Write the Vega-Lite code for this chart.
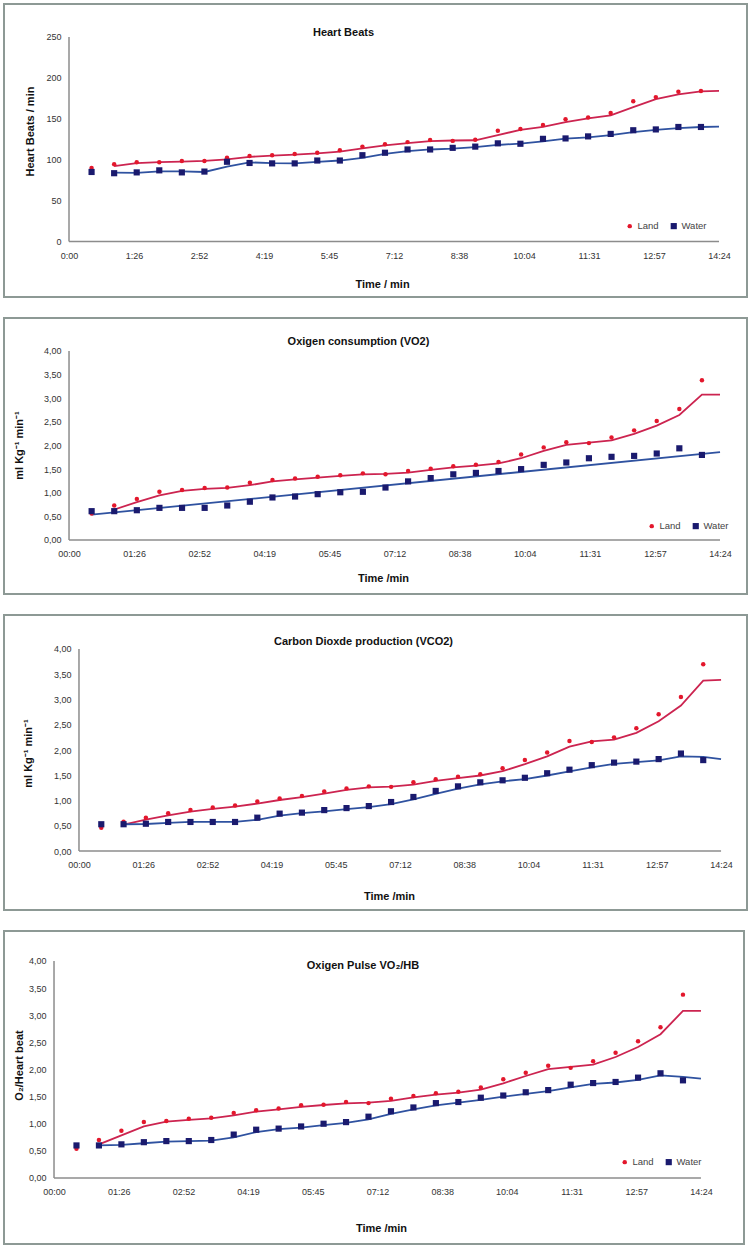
{
"$schema": "https://vega.github.io/schema/vega-lite/v6.json",
"background": "white",
"padding": {"left": 3, "top": 3, "right": 0, "bottom": 0},
"config": {
  "font": "Liberation Sans",
  "view": {"stroke": "#8d9995", "strokeWidth": 2},
  "concat": {"spacing": 19},
  "axis": {"ticks": false, "domain": false, "grid": false, "labelFont": "Liberation Sans", "labelFontSize": 9, "labelColor": "#333333", "titleFont": "Liberation Sans", "titleFontSize": 11, "titleFontWeight": "bold", "titleColor": "#111111", "labelOverlap": false, "labelFlush": false, "tickCount": 30},
  "title": {"font": "Liberation Sans", "fontSize": 11, "fontWeight": "bold", "color": "#111111", "baseline": "middle", "frame": "group", "anchor": "middle"},
  "legend": {"labelFont": "Liberation Sans"}
},
"datasets": {
"points": [
{"panel":1,"series":"Land","sec":30,"value":90},{"panel":1,"series":"Land","sec":60,"value":94.5},{"panel":1,"series":"Land","sec":90,"value":97},{"panel":1,"series":"Land","sec":120,"value":97},{"panel":1,"series":"Land","sec":150,"value":98.5},{"panel":1,"series":"Land","sec":180,"value":98.5},{"panel":1,"series":"Land","sec":210,"value":102.5},{"panel":1,"series":"Land","sec":240,"value":104.5},{"panel":1,"series":"Land","sec":270,"value":105.5},{"panel":1,"series":"Land","sec":300,"value":107},{"panel":1,"series":"Land","sec":330,"value":108.5},{"panel":1,"series":"Land","sec":360,"value":111.5},{"panel":1,"series":"Land","sec":390,"value":116},{"panel":1,"series":"Land","sec":420,"value":119},{"panel":1,"series":"Land","sec":450,"value":121.5},{"panel":1,"series":"Land","sec":480,"value":124},{"panel":1,"series":"Land","sec":510,"value":123},{"panel":1,"series":"Land","sec":540,"value":124.5},{"panel":1,"series":"Land","sec":570,"value":135.5},{"panel":1,"series":"Land","sec":600,"value":137.5},{"panel":1,"series":"Land","sec":630,"value":142.5},{"panel":1,"series":"Land","sec":660,"value":149.5},{"panel":1,"series":"Land","sec":690,"value":151.5},{"panel":1,"series":"Land","sec":720,"value":157},{"panel":1,"series":"Land","sec":750,"value":171.5},{"panel":1,"series":"Land","sec":780,"value":176.5},{"panel":1,"series":"Land","sec":810,"value":183},{"panel":1,"series":"Land","sec":840,"value":184},
{"panel":1,"series":"Water","sec":30,"value":85},{"panel":1,"series":"Water","sec":60,"value":83.5},{"panel":1,"series":"Water","sec":90,"value":84.5},{"panel":1,"series":"Water","sec":120,"value":87},{"panel":1,"series":"Water","sec":150,"value":84.5},{"panel":1,"series":"Water","sec":180,"value":85.5},{"panel":1,"series":"Water","sec":210,"value":97.5},{"panel":1,"series":"Water","sec":240,"value":96},{"panel":1,"series":"Water","sec":270,"value":95.5},{"panel":1,"series":"Water","sec":300,"value":95.5},{"panel":1,"series":"Water","sec":330,"value":99},{"panel":1,"series":"Water","sec":360,"value":99},{"panel":1,"series":"Water","sec":390,"value":105.5},{"panel":1,"series":"Water","sec":420,"value":108.5},{"panel":1,"series":"Water","sec":450,"value":112.5},{"panel":1,"series":"Water","sec":480,"value":112.5},{"panel":1,"series":"Water","sec":510,"value":114.5},{"panel":1,"series":"Water","sec":540,"value":116},{"panel":1,"series":"Water","sec":570,"value":120},{"panel":1,"series":"Water","sec":600,"value":119.5},{"panel":1,"series":"Water","sec":630,"value":125.5},{"panel":1,"series":"Water","sec":660,"value":126},{"panel":1,"series":"Water","sec":690,"value":128.5},{"panel":1,"series":"Water","sec":720,"value":131.5},{"panel":1,"series":"Water","sec":750,"value":136},{"panel":1,"series":"Water","sec":780,"value":137},{"panel":1,"series":"Water","sec":810,"value":140},{"panel":1,"series":"Water","sec":840,"value":140},
{"panel":2,"series":"Land","sec":30,"value":0.56},{"panel":2,"series":"Land","sec":60,"value":0.73},{"panel":2,"series":"Land","sec":90,"value":0.87},{"panel":2,"series":"Land","sec":120,"value":1.02},{"panel":2,"series":"Land","sec":150,"value":1.06},{"panel":2,"series":"Land","sec":180,"value":1.1},{"panel":2,"series":"Land","sec":210,"value":1.11},{"panel":2,"series":"Land","sec":240,"value":1.21},{"panel":2,"series":"Land","sec":270,"value":1.27},{"panel":2,"series":"Land","sec":300,"value":1.3},{"panel":2,"series":"Land","sec":330,"value":1.34},{"panel":2,"series":"Land","sec":360,"value":1.37},{"panel":2,"series":"Land","sec":390,"value":1.41},{"panel":2,"series":"Land","sec":420,"value":1.39},{"panel":2,"series":"Land","sec":450,"value":1.46},{"panel":2,"series":"Land","sec":480,"value":1.51},{"panel":2,"series":"Land","sec":510,"value":1.56},{"panel":2,"series":"Land","sec":540,"value":1.59},{"panel":2,"series":"Land","sec":570,"value":1.65},{"panel":2,"series":"Land","sec":600,"value":1.81},{"panel":2,"series":"Land","sec":630,"value":1.96},{"panel":2,"series":"Land","sec":660,"value":2.07},{"panel":2,"series":"Land","sec":690,"value":2.05},{"panel":2,"series":"Land","sec":720,"value":2.17},{"panel":2,"series":"Land","sec":750,"value":2.32},{"panel":2,"series":"Land","sec":780,"value":2.52},{"panel":2,"series":"Land","sec":810,"value":2.77},{"panel":2,"series":"Land","sec":840,"value":3.38},
{"panel":2,"series":"Water","sec":30,"value":0.61},{"panel":2,"series":"Water","sec":60,"value":0.61},{"panel":2,"series":"Water","sec":90,"value":0.63},{"panel":2,"series":"Water","sec":120,"value":0.68},{"panel":2,"series":"Water","sec":150,"value":0.68},{"panel":2,"series":"Water","sec":180,"value":0.68},{"panel":2,"series":"Water","sec":210,"value":0.73},{"panel":2,"series":"Water","sec":240,"value":0.81},{"panel":2,"series":"Water","sec":270,"value":0.9},{"panel":2,"series":"Water","sec":300,"value":0.92},{"panel":2,"series":"Water","sec":330,"value":0.97},{"panel":2,"series":"Water","sec":360,"value":1.01},{"panel":2,"series":"Water","sec":390,"value":1.02},{"panel":2,"series":"Water","sec":420,"value":1.11},{"panel":2,"series":"Water","sec":450,"value":1.24},{"panel":2,"series":"Water","sec":480,"value":1.31},{"panel":2,"series":"Water","sec":510,"value":1.39},{"panel":2,"series":"Water","sec":540,"value":1.42},{"panel":2,"series":"Water","sec":570,"value":1.46},{"panel":2,"series":"Water","sec":600,"value":1.5},{"panel":2,"series":"Water","sec":630,"value":1.59},{"panel":2,"series":"Water","sec":660,"value":1.64},{"panel":2,"series":"Water","sec":690,"value":1.73},{"panel":2,"series":"Water","sec":720,"value":1.76},{"panel":2,"series":"Water","sec":750,"value":1.78},{"panel":2,"series":"Water","sec":780,"value":1.83},{"panel":2,"series":"Water","sec":810,"value":1.94},{"panel":2,"series":"Water","sec":840,"value":1.8},
{"panel":3,"series":"Land","sec":30,"value":0.46},{"panel":3,"series":"Land","sec":60,"value":0.58},{"panel":3,"series":"Land","sec":90,"value":0.66},{"panel":3,"series":"Land","sec":120,"value":0.75},{"panel":3,"series":"Land","sec":150,"value":0.81},{"panel":3,"series":"Land","sec":180,"value":0.86},{"panel":3,"series":"Land","sec":210,"value":0.9},{"panel":3,"series":"Land","sec":240,"value":0.98},{"panel":3,"series":"Land","sec":270,"value":1.04},{"panel":3,"series":"Land","sec":300,"value":1.09},{"panel":3,"series":"Land","sec":330,"value":1.18},{"panel":3,"series":"Land","sec":360,"value":1.24},{"panel":3,"series":"Land","sec":390,"value":1.28},{"panel":3,"series":"Land","sec":420,"value":1.27},{"panel":3,"series":"Land","sec":450,"value":1.36},{"panel":3,"series":"Land","sec":480,"value":1.42},{"panel":3,"series":"Land","sec":510,"value":1.47},{"panel":3,"series":"Land","sec":540,"value":1.52},{"panel":3,"series":"Land","sec":570,"value":1.64},{"panel":3,"series":"Land","sec":600,"value":1.8},{"panel":3,"series":"Land","sec":630,"value":1.95},{"panel":3,"series":"Land","sec":660,"value":2.18},{"panel":3,"series":"Land","sec":690,"value":2.16},{"panel":3,"series":"Land","sec":720,"value":2.25},{"panel":3,"series":"Land","sec":750,"value":2.43},{"panel":3,"series":"Land","sec":780,"value":2.71},{"panel":3,"series":"Land","sec":810,"value":3.05},{"panel":3,"series":"Land","sec":840,"value":3.7},
{"panel":3,"series":"Water","sec":30,"value":0.53},{"panel":3,"series":"Water","sec":60,"value":0.53},{"panel":3,"series":"Water","sec":90,"value":0.54},{"panel":3,"series":"Water","sec":120,"value":0.575},{"panel":3,"series":"Water","sec":150,"value":0.575},{"panel":3,"series":"Water","sec":180,"value":0.575},{"panel":3,"series":"Water","sec":210,"value":0.575},{"panel":3,"series":"Water","sec":240,"value":0.66},{"panel":3,"series":"Water","sec":270,"value":0.74},{"panel":3,"series":"Water","sec":300,"value":0.76},{"panel":3,"series":"Water","sec":330,"value":0.81},{"panel":3,"series":"Water","sec":360,"value":0.85},{"panel":3,"series":"Water","sec":390,"value":0.89},{"panel":3,"series":"Water","sec":420,"value":0.97},{"panel":3,"series":"Water","sec":450,"value":1.07},{"panel":3,"series":"Water","sec":480,"value":1.19},{"panel":3,"series":"Water","sec":510,"value":1.28},{"panel":3,"series":"Water","sec":540,"value":1.36},{"panel":3,"series":"Water","sec":570,"value":1.4},{"panel":3,"series":"Water","sec":600,"value":1.45},{"panel":3,"series":"Water","sec":630,"value":1.54},{"panel":3,"series":"Water","sec":660,"value":1.61},{"panel":3,"series":"Water","sec":690,"value":1.7},{"panel":3,"series":"Water","sec":720,"value":1.75},{"panel":3,"series":"Water","sec":750,"value":1.77},{"panel":3,"series":"Water","sec":780,"value":1.82},{"panel":3,"series":"Water","sec":810,"value":1.93},{"panel":3,"series":"Water","sec":840,"value":1.8},
{"panel":4,"series":"Land","sec":30,"value":0.54},{"panel":4,"series":"Land","sec":60,"value":0.7},{"panel":4,"series":"Land","sec":90,"value":0.87},{"panel":4,"series":"Land","sec":120,"value":1.03},{"panel":4,"series":"Land","sec":150,"value":1.05},{"panel":4,"series":"Land","sec":180,"value":1.09},{"panel":4,"series":"Land","sec":210,"value":1.11},{"panel":4,"series":"Land","sec":240,"value":1.2},{"panel":4,"series":"Land","sec":270,"value":1.25},{"panel":4,"series":"Land","sec":300,"value":1.28},{"panel":4,"series":"Land","sec":330,"value":1.34},{"panel":4,"series":"Land","sec":360,"value":1.35},{"panel":4,"series":"Land","sec":390,"value":1.4},{"panel":4,"series":"Land","sec":420,"value":1.38},{"panel":4,"series":"Land","sec":450,"value":1.46},{"panel":4,"series":"Land","sec":480,"value":1.51},{"panel":4,"series":"Land","sec":510,"value":1.56},{"panel":4,"series":"Land","sec":540,"value":1.59},{"panel":4,"series":"Land","sec":570,"value":1.67},{"panel":4,"series":"Land","sec":600,"value":1.82},{"panel":4,"series":"Land","sec":630,"value":1.94},{"panel":4,"series":"Land","sec":660,"value":2.07},{"panel":4,"series":"Land","sec":690,"value":2.03},{"panel":4,"series":"Land","sec":720,"value":2.15},{"panel":4,"series":"Land","sec":750,"value":2.31},{"panel":4,"series":"Land","sec":780,"value":2.52},{"panel":4,"series":"Land","sec":810,"value":2.78},{"panel":4,"series":"Land","sec":840,"value":3.38},
{"panel":4,"series":"Water","sec":30,"value":0.6},{"panel":4,"series":"Water","sec":60,"value":0.6},{"panel":4,"series":"Water","sec":90,"value":0.62},{"panel":4,"series":"Water","sec":120,"value":0.66},{"panel":4,"series":"Water","sec":150,"value":0.68},{"panel":4,"series":"Water","sec":180,"value":0.68},{"panel":4,"series":"Water","sec":210,"value":0.7},{"panel":4,"series":"Water","sec":240,"value":0.8},{"panel":4,"series":"Water","sec":270,"value":0.89},{"panel":4,"series":"Water","sec":300,"value":0.91},{"panel":4,"series":"Water","sec":330,"value":0.95},{"panel":4,"series":"Water","sec":360,"value":1.0},{"panel":4,"series":"Water","sec":390,"value":1.03},{"panel":4,"series":"Water","sec":420,"value":1.13},{"panel":4,"series":"Water","sec":450,"value":1.23},{"panel":4,"series":"Water","sec":480,"value":1.3},{"panel":4,"series":"Water","sec":510,"value":1.38},{"panel":4,"series":"Water","sec":540,"value":1.4},{"panel":4,"series":"Water","sec":570,"value":1.48},{"panel":4,"series":"Water","sec":600,"value":1.52},{"panel":4,"series":"Water","sec":630,"value":1.58},{"panel":4,"series":"Water","sec":660,"value":1.62},{"panel":4,"series":"Water","sec":690,"value":1.72},{"panel":4,"series":"Water","sec":720,"value":1.75},{"panel":4,"series":"Water","sec":750,"value":1.77},{"panel":4,"series":"Water","sec":780,"value":1.85},{"panel":4,"series":"Water","sec":810,"value":1.93},{"panel":4,"series":"Water","sec":840,"value":1.8}
],
"trends": [
{"panel":1,"series":"Land","sec":60,"value":92.25},{"panel":1,"series":"Land","sec":90,"value":95.75},{"panel":1,"series":"Land","sec":120,"value":97},{"panel":1,"series":"Land","sec":150,"value":97.75},{"panel":1,"series":"Land","sec":180,"value":98.5},{"panel":1,"series":"Land","sec":210,"value":100.5},{"panel":1,"series":"Land","sec":240,"value":103.5},{"panel":1,"series":"Land","sec":270,"value":105},{"panel":1,"series":"Land","sec":300,"value":106.25},{"panel":1,"series":"Land","sec":330,"value":107.75},{"panel":1,"series":"Land","sec":360,"value":110},{"panel":1,"series":"Land","sec":390,"value":113.75},{"panel":1,"series":"Land","sec":420,"value":117.5},{"panel":1,"series":"Land","sec":450,"value":120.25},{"panel":1,"series":"Land","sec":480,"value":122.75},{"panel":1,"series":"Land","sec":510,"value":123.5},{"panel":1,"series":"Land","sec":540,"value":123.75},{"panel":1,"series":"Land","sec":570,"value":130},{"panel":1,"series":"Land","sec":600,"value":136.5},{"panel":1,"series":"Land","sec":630,"value":140},{"panel":1,"series":"Land","sec":660,"value":146},{"panel":1,"series":"Land","sec":690,"value":150.5},{"panel":1,"series":"Land","sec":720,"value":154.25},{"panel":1,"series":"Land","sec":750,"value":164.25},{"panel":1,"series":"Land","sec":780,"value":174},{"panel":1,"series":"Land","sec":810,"value":179.75},{"panel":1,"series":"Land","sec":840,"value":183.5},{"panel":1,"series":"Land","sec":864,"value":184},
{"panel":1,"series":"Water","sec":60,"value":84.25},{"panel":1,"series":"Water","sec":90,"value":84},{"panel":1,"series":"Water","sec":120,"value":85.75},{"panel":1,"series":"Water","sec":150,"value":85.75},{"panel":1,"series":"Water","sec":180,"value":85},{"panel":1,"series":"Water","sec":210,"value":91.5},{"panel":1,"series":"Water","sec":240,"value":96.75},{"panel":1,"series":"Water","sec":270,"value":95.75},{"panel":1,"series":"Water","sec":300,"value":95.5},{"panel":1,"series":"Water","sec":330,"value":97.25},{"panel":1,"series":"Water","sec":360,"value":99},{"panel":1,"series":"Water","sec":390,"value":102.25},{"panel":1,"series":"Water","sec":420,"value":107},{"panel":1,"series":"Water","sec":450,"value":110.5},{"panel":1,"series":"Water","sec":480,"value":112.5},{"panel":1,"series":"Water","sec":510,"value":113.5},{"panel":1,"series":"Water","sec":540,"value":115.25},{"panel":1,"series":"Water","sec":570,"value":118},{"panel":1,"series":"Water","sec":600,"value":119.75},{"panel":1,"series":"Water","sec":630,"value":122.5},{"panel":1,"series":"Water","sec":660,"value":125.75},{"panel":1,"series":"Water","sec":690,"value":127.25},{"panel":1,"series":"Water","sec":720,"value":130},{"panel":1,"series":"Water","sec":750,"value":133.75},{"panel":1,"series":"Water","sec":780,"value":136.5},{"panel":1,"series":"Water","sec":810,"value":138.5},{"panel":1,"series":"Water","sec":840,"value":140},{"panel":1,"series":"Water","sec":864,"value":140.5},
{"panel":2,"series":"Land","sec":60,"value":0.645},{"panel":2,"series":"Land","sec":90,"value":0.8},{"panel":2,"series":"Land","sec":120,"value":0.945},{"panel":2,"series":"Land","sec":150,"value":1.04},{"panel":2,"series":"Land","sec":180,"value":1.08},{"panel":2,"series":"Land","sec":210,"value":1.105},{"panel":2,"series":"Land","sec":240,"value":1.16},{"panel":2,"series":"Land","sec":270,"value":1.24},{"panel":2,"series":"Land","sec":300,"value":1.285},{"panel":2,"series":"Land","sec":330,"value":1.32},{"panel":2,"series":"Land","sec":360,"value":1.355},{"panel":2,"series":"Land","sec":390,"value":1.39},{"panel":2,"series":"Land","sec":420,"value":1.4},{"panel":2,"series":"Land","sec":450,"value":1.425},{"panel":2,"series":"Land","sec":480,"value":1.485},{"panel":2,"series":"Land","sec":510,"value":1.535},{"panel":2,"series":"Land","sec":540,"value":1.575},{"panel":2,"series":"Land","sec":570,"value":1.62},{"panel":2,"series":"Land","sec":600,"value":1.73},{"panel":2,"series":"Land","sec":630,"value":1.885},{"panel":2,"series":"Land","sec":660,"value":2.015},{"panel":2,"series":"Land","sec":690,"value":2.06},{"panel":2,"series":"Land","sec":720,"value":2.11},{"panel":2,"series":"Land","sec":750,"value":2.245},{"panel":2,"series":"Land","sec":780,"value":2.42},{"panel":2,"series":"Land","sec":810,"value":2.645},{"panel":2,"series":"Land","sec":840,"value":3.075},{"panel":2,"series":"Land","sec":864,"value":3.075},
{"panel":2,"series":"Water","sec":30,"value":0.535},{"panel":2,"series":"Water","sec":864,"value":1.86},
{"panel":3,"series":"Land","sec":60,"value":0.52},{"panel":3,"series":"Land","sec":90,"value":0.62},{"panel":3,"series":"Land","sec":120,"value":0.705},{"panel":3,"series":"Land","sec":150,"value":0.78},{"panel":3,"series":"Land","sec":180,"value":0.835},{"panel":3,"series":"Land","sec":210,"value":0.88},{"panel":3,"series":"Land","sec":240,"value":0.94},{"panel":3,"series":"Land","sec":270,"value":1.01},{"panel":3,"series":"Land","sec":300,"value":1.065},{"panel":3,"series":"Land","sec":330,"value":1.135},{"panel":3,"series":"Land","sec":360,"value":1.21},{"panel":3,"series":"Land","sec":390,"value":1.26},{"panel":3,"series":"Land","sec":420,"value":1.275},{"panel":3,"series":"Land","sec":450,"value":1.315},{"panel":3,"series":"Land","sec":480,"value":1.39},{"panel":3,"series":"Land","sec":510,"value":1.445},{"panel":3,"series":"Land","sec":540,"value":1.495},{"panel":3,"series":"Land","sec":570,"value":1.58},{"panel":3,"series":"Land","sec":600,"value":1.72},{"panel":3,"series":"Land","sec":630,"value":1.875},{"panel":3,"series":"Land","sec":660,"value":2.065},{"panel":3,"series":"Land","sec":690,"value":2.17},{"panel":3,"series":"Land","sec":720,"value":2.205},{"panel":3,"series":"Land","sec":750,"value":2.34},{"panel":3,"series":"Land","sec":780,"value":2.57},{"panel":3,"series":"Land","sec":810,"value":2.88},{"panel":3,"series":"Land","sec":840,"value":3.375},{"panel":3,"series":"Land","sec":864,"value":3.39},
{"panel":3,"series":"Water","sec":60,"value":0.53},{"panel":3,"series":"Water","sec":90,"value":0.535},{"panel":3,"series":"Water","sec":120,"value":0.5575},{"panel":3,"series":"Water","sec":150,"value":0.575},{"panel":3,"series":"Water","sec":180,"value":0.575},{"panel":3,"series":"Water","sec":210,"value":0.575},{"panel":3,"series":"Water","sec":240,"value":0.6175},{"panel":3,"series":"Water","sec":270,"value":0.7},{"panel":3,"series":"Water","sec":300,"value":0.75},{"panel":3,"series":"Water","sec":330,"value":0.785},{"panel":3,"series":"Water","sec":360,"value":0.83},{"panel":3,"series":"Water","sec":390,"value":0.87},{"panel":3,"series":"Water","sec":420,"value":0.93},{"panel":3,"series":"Water","sec":450,"value":1.02},{"panel":3,"series":"Water","sec":480,"value":1.13},{"panel":3,"series":"Water","sec":510,"value":1.235},{"panel":3,"series":"Water","sec":540,"value":1.32},{"panel":3,"series":"Water","sec":570,"value":1.38},{"panel":3,"series":"Water","sec":600,"value":1.425},{"panel":3,"series":"Water","sec":630,"value":1.495},{"panel":3,"series":"Water","sec":660,"value":1.575},{"panel":3,"series":"Water","sec":690,"value":1.655},{"panel":3,"series":"Water","sec":720,"value":1.725},{"panel":3,"series":"Water","sec":750,"value":1.76},{"panel":3,"series":"Water","sec":780,"value":1.795},{"panel":3,"series":"Water","sec":810,"value":1.875},{"panel":3,"series":"Water","sec":840,"value":1.865},{"panel":3,"series":"Water","sec":864,"value":1.82},
{"panel":4,"series":"Land","sec":60,"value":0.62},{"panel":4,"series":"Land","sec":90,"value":0.785},{"panel":4,"series":"Land","sec":120,"value":0.95},{"panel":4,"series":"Land","sec":150,"value":1.04},{"panel":4,"series":"Land","sec":180,"value":1.07},{"panel":4,"series":"Land","sec":210,"value":1.1},{"panel":4,"series":"Land","sec":240,"value":1.155},{"panel":4,"series":"Land","sec":270,"value":1.225},{"panel":4,"series":"Land","sec":300,"value":1.265},{"panel":4,"series":"Land","sec":330,"value":1.31},{"panel":4,"series":"Land","sec":360,"value":1.345},{"panel":4,"series":"Land","sec":390,"value":1.375},{"panel":4,"series":"Land","sec":420,"value":1.39},{"panel":4,"series":"Land","sec":450,"value":1.42},{"panel":4,"series":"Land","sec":480,"value":1.485},{"panel":4,"series":"Land","sec":510,"value":1.535},{"panel":4,"series":"Land","sec":540,"value":1.575},{"panel":4,"series":"Land","sec":570,"value":1.63},{"panel":4,"series":"Land","sec":600,"value":1.745},{"panel":4,"series":"Land","sec":630,"value":1.88},{"panel":4,"series":"Land","sec":660,"value":2.005},{"panel":4,"series":"Land","sec":690,"value":2.05},{"panel":4,"series":"Land","sec":720,"value":2.09},{"panel":4,"series":"Land","sec":750,"value":2.23},{"panel":4,"series":"Land","sec":780,"value":2.415},{"panel":4,"series":"Land","sec":810,"value":2.65},{"panel":4,"series":"Land","sec":840,"value":3.08},{"panel":4,"series":"Land","sec":864,"value":3.08},
{"panel":4,"series":"Water","sec":60,"value":0.6},{"panel":4,"series":"Water","sec":90,"value":0.61},{"panel":4,"series":"Water","sec":120,"value":0.64},{"panel":4,"series":"Water","sec":150,"value":0.67},{"panel":4,"series":"Water","sec":180,"value":0.68},{"panel":4,"series":"Water","sec":210,"value":0.69},{"panel":4,"series":"Water","sec":240,"value":0.75},{"panel":4,"series":"Water","sec":270,"value":0.845},{"panel":4,"series":"Water","sec":300,"value":0.9},{"panel":4,"series":"Water","sec":330,"value":0.93},{"panel":4,"series":"Water","sec":360,"value":0.975},{"panel":4,"series":"Water","sec":390,"value":1.015},{"panel":4,"series":"Water","sec":420,"value":1.08},{"panel":4,"series":"Water","sec":450,"value":1.18},{"panel":4,"series":"Water","sec":480,"value":1.265},{"panel":4,"series":"Water","sec":510,"value":1.34},{"panel":4,"series":"Water","sec":540,"value":1.39},{"panel":4,"series":"Water","sec":570,"value":1.44},{"panel":4,"series":"Water","sec":600,"value":1.5},{"panel":4,"series":"Water","sec":630,"value":1.55},{"panel":4,"series":"Water","sec":660,"value":1.6},{"panel":4,"series":"Water","sec":690,"value":1.67},{"panel":4,"series":"Water","sec":720,"value":1.735},{"panel":4,"series":"Water","sec":750,"value":1.76},{"panel":4,"series":"Water","sec":780,"value":1.81},{"panel":4,"series":"Water","sec":810,"value":1.89},{"panel":4,"series":"Water","sec":840,"value":1.865},{"panel":4,"series":"Water","sec":864,"value":1.83}
]
},
"resolve": {"scale": {"x": "independent", "y": "independent", "color": "independent", "shape": "independent", "size": "independent"}, "legend": {"color": "independent", "shape": "independent"}},
"vconcat": [
{
 "width": 743, "height": 293,
 "title": {"text": "Heart Beats", "offset": -34, "dx": -32},
 "layer": [
  {"data": {"values": [{}]}, "mark": {"type": "rule", "color": "#8c8c8c", "strokeWidth": 1.5},
   "encoding": {"x": {"datum": 0, "type": "quantitative", "scale": {"domain": [-86.4, 901.2], "nice": false, "zero": false}}, "x2": {"datum": 864}, "y": {"datum": 0, "type": "quantitative", "scale": {"domain": [-67.8, 290.3], "nice": false, "zero": false}}}},
  {"data": {"values": [{}]}, "mark": {"type": "rule", "color": "#8c8c8c", "strokeWidth": 1.5},
   "encoding": {"x": {"datum": 0, "type": "quantitative", "scale": {"domain": [-86.4, 901.2], "nice": false, "zero": false}}, "y": {"datum": 0, "type": "quantitative", "scale": {"domain": [-67.8, 290.3], "nice": false, "zero": false}}, "y2": {"datum": 250}}},
  {"data": {"name": "trends"}, "transform": [{"filter": "datum.panel == 1"}], "mark": {"type": "line", "strokeWidth": 1.8},
   "encoding": {"x": {"field": "sec", "type": "quantitative", "scale": {"domain": [-86.4, 901.2], "nice": false, "zero": false}}, "y": {"field": "value", "type": "quantitative", "scale": {"domain": [-67.8, 290.3], "nice": false, "zero": false}}, "detail": {"field": "series"}, "color": {"condition": {"test": "datum.series === 'Land'", "value": "#cc2450"}, "value": "#2f52a0"}}},
  {"data": {"name": "points"}, "transform": [{"filter": "datum.panel == 1"}], "mark": {"type": "point", "filled": true, "opacity": 1},
   "encoding": {
    "x": {"field": "sec", "type": "quantitative", "scale": {"domain": [-86.4, 901.2], "nice": false, "zero": false},
      "axis": {"values": [0, 86.4, 172.8, 259.2, 345.6, 432, 518.4, 604.8, 691.2, 777.6, 864], "tickCount": 30, "labelExpr": "floor(datum.value / 60) + ':' + pad(toString(floor(datum.value % 60)), 2, '0', 'left')", "offset": -56, "labelPadding": 10, "labelOverlap": false, "title": "Time / min", "titleX": 378, "titleY": 43, "titleBaseline": "middle"}},
    "y": {"field": "value", "type": "quantitative", "scale": {"domain": [-67.8, 290.3], "nice": false, "zero": false},
      "axis": {"values": [0, 50, 100, 150, 200, 250], "tickCount": 30, "offset": -65, "labelPadding": 8, "labelOverlap": false, "title": "Heart Beats / min", "titleX": -39, "titleY": 127, "titleBaseline": "middle", "titleAlign": "center", "titleAngle": -90}},
    "color": {"field": "series", "type": "nominal", "scale": {"domain": ["Land", "Water"], "range": ["#e3172c", "#1a1a6e"]},
      "legend": {"orient": "none", "legendX": 621, "legendY": 217, "direction": "horizontal", "title": null, "labelFontSize": 9.5, "labelColor": "#444444", "symbolSize": 25, "labelOffset": 3, "columnPadding": 10, "symbolStrokeWidth": 0, "padding": 0}},
    "shape": {"field": "series", "type": "nominal", "scale": {"domain": ["Land", "Water"], "range": ["circle", "square"]},
      "legend": {"orient": "none", "legendX": 621, "legendY": 217, "direction": "horizontal", "title": null, "labelFontSize": 9.5, "labelColor": "#444444", "symbolSize": 25, "labelOffset": 3, "columnPadding": 10, "symbolStrokeWidth": 0, "padding": 0}},
    "size": {"field": "series", "type": "nominal", "scale": {"domain": ["Land", "Water"], "range": [20, 38]}, "legend": null}
   }}
 ]
},
{
 "width": 743, "height": 276,
 "title": {"text": "Oxigen consumption (VO2)", "offset": -29, "dx": -17},
 "layer": [
  {"data": {"values": [{}]}, "mark": {"type": "rule", "color": "#8c8c8c", "strokeWidth": 1.5},
   "encoding": {"x": {"datum": 0, "type": "quantitative", "scale": {"domain": [-86.3, 899.8], "nice": false, "zero": false}}, "x2": {"datum": 864}, "y": {"datum": 0, "type": "quantitative", "scale": {"domain": [-1.143, 4.698], "nice": false, "zero": false}}}},
  {"data": {"values": [{}]}, "mark": {"type": "rule", "color": "#8c8c8c", "strokeWidth": 1.5},
   "encoding": {"x": {"datum": 0, "type": "quantitative", "scale": {"domain": [-86.3, 899.8], "nice": false, "zero": false}}, "y": {"datum": 0, "type": "quantitative", "scale": {"domain": [-1.143, 4.698], "nice": false, "zero": false}}, "y2": {"datum": 4}}},
  {"data": {"name": "trends"}, "transform": [{"filter": "datum.panel == 2"}], "mark": {"type": "line", "strokeWidth": 1.8},
   "encoding": {"x": {"field": "sec", "type": "quantitative", "scale": {"domain": [-86.3, 899.8], "nice": false, "zero": false}}, "y": {"field": "value", "type": "quantitative", "scale": {"domain": [-1.143, 4.698], "nice": false, "zero": false}}, "detail": {"field": "series"}, "color": {"condition": {"test": "datum.series === 'Land'", "value": "#cc2450"}, "value": "#2f52a0"}}},
  {"data": {"name": "points"}, "transform": [{"filter": "datum.panel == 2"}], "mark": {"type": "point", "filled": true, "opacity": 1},
   "encoding": {
    "x": {"field": "sec", "type": "quantitative", "scale": {"domain": [-86.3, 899.8], "nice": false, "zero": false},
      "axis": {"values": [0, 86.4, 172.8, 259.2, 345.6, 432, 518.4, 604.8, 691.2, 777.6, 864], "tickCount": 30, "labelExpr": "pad(toString(floor(datum.value / 60)), 2, '0', 'left') + ':' + pad(toString(floor(datum.value % 60)), 2, '0', 'left')", "offset": -54, "labelPadding": 9, "labelOverlap": false, "title": "Time /min", "titleX": 379, "titleY": 38, "titleBaseline": "middle"}},
    "y": {"field": "value", "type": "quantitative", "scale": {"domain": [-1.143, 4.698], "nice": false, "zero": false},
      "axis": {"values": [0, 0.5, 1, 1.5, 2, 2.5, 3, 3.5, 4], "tickCount": 30, "labelExpr": "replace(format(datum.value, '.2f'), '.', ',')", "offset": -65, "labelPadding": 8, "labelOverlap": false, "title": "ml Kg⁻¹ min⁻¹", "titleX": -50, "titleY": 127, "titleBaseline": "middle", "titleAlign": "center", "titleAngle": -90}},
    "color": {"field": "series", "type": "nominal", "scale": {"domain": ["Land", "Water"], "range": ["#e3172c", "#1a1a6e"]},
      "legend": {"orient": "none", "legendX": 643, "legendY": 203, "direction": "horizontal", "title": null, "labelFontSize": 9.5, "labelColor": "#444444", "symbolSize": 25, "labelOffset": 3, "columnPadding": 10, "symbolStrokeWidth": 0, "padding": 0}},
    "shape": {"field": "series", "type": "nominal", "scale": {"domain": ["Land", "Water"], "range": ["circle", "square"]},
      "legend": {"orient": "none", "legendX": 643, "legendY": 203, "direction": "horizontal", "title": null, "labelFontSize": 9.5, "labelColor": "#444444", "symbolSize": 25, "labelOffset": 3, "columnPadding": 10, "symbolStrokeWidth": 0, "padding": 0}},
    "size": {"field": "series", "type": "nominal", "scale": {"domain": ["Land", "Water"], "range": [20, 38]}, "legend": null}
   }}
 ]
},
{
 "width": 743, "height": 295,
 "title": {"text": "Carbon Dioxde production (VCO2)", "offset": -32, "dx": -12},
 "layer": [
  {"data": {"values": [{}]}, "mark": {"type": "rule", "color": "#8c8c8c", "strokeWidth": 1.5},
   "encoding": {"x": {"datum": 0, "type": "quantitative", "scale": {"domain": [-100.9, 898.9], "nice": false, "zero": false}}, "x2": {"datum": 864}, "y": {"datum": 0, "type": "quantitative", "scale": {"domain": [-1.168, 4.673], "nice": false, "zero": false}}}},
  {"data": {"values": [{}]}, "mark": {"type": "rule", "color": "#8c8c8c", "strokeWidth": 1.5},
   "encoding": {"x": {"datum": 0, "type": "quantitative", "scale": {"domain": [-100.9, 898.9], "nice": false, "zero": false}}, "y": {"datum": 0, "type": "quantitative", "scale": {"domain": [-1.168, 4.673], "nice": false, "zero": false}}, "y2": {"datum": 4}}},
  {"data": {"name": "trends"}, "transform": [{"filter": "datum.panel == 3"}], "mark": {"type": "line", "strokeWidth": 1.8},
   "encoding": {"x": {"field": "sec", "type": "quantitative", "scale": {"domain": [-100.9, 898.9], "nice": false, "zero": false}}, "y": {"field": "value", "type": "quantitative", "scale": {"domain": [-1.168, 4.673], "nice": false, "zero": false}}, "detail": {"field": "series"}, "color": {"condition": {"test": "datum.series === 'Land'", "value": "#cc2450"}, "value": "#2f52a0"}}},
  {"data": {"name": "points"}, "transform": [{"filter": "datum.panel == 3"}], "mark": {"type": "point", "filled": true, "opacity": 1},
   "encoding": {
    "x": {"field": "sec", "type": "quantitative", "scale": {"domain": [-100.9, 898.9], "nice": false, "zero": false},
      "axis": {"values": [0, 86.4, 172.8, 259.2, 345.6, 432, 518.4, 604.8, 691.2, 777.6, 864], "tickCount": 30, "labelExpr": "pad(toString(floor(datum.value / 60)), 2, '0', 'left') + ':' + pad(toString(floor(datum.value % 60)), 2, '0', 'left')", "offset": -59, "labelPadding": 9, "labelOverlap": false, "title": "Time /min", "titleX": 385, "titleY": 45, "titleBaseline": "middle"}},
    "y": {"field": "value", "type": "quantitative", "scale": {"domain": [-1.168, 4.673], "nice": false, "zero": false},
      "axis": {"values": [0, 0.5, 1, 1.5, 2, 2.5, 3, 3.5, 4], "tickCount": 30, "labelExpr": "replace(format(datum.value, '.2f'), '.', ',')", "offset": -75, "labelPadding": 8, "labelOverlap": false, "title": "ml Kg⁻¹ min⁻¹", "titleX": -51, "titleY": 138, "titleBaseline": "middle", "titleAlign": "center", "titleAngle": -90}},
    "color": {"field": "series", "type": "nominal", "scale": {"domain": ["Land", "Water"], "range": ["#e3172c", "#1a1a6e"]}, "legend": null},
    "shape": {"field": "series", "type": "nominal", "scale": {"domain": ["Land", "Water"], "range": ["circle", "square"]}, "legend": null},
    "size": {"field": "series", "type": "nominal", "scale": {"domain": ["Land", "Water"], "range": [20, 38]}, "legend": null}
   }}
 ]
},
{
 "width": 740, "height": 313,
 "title": {"text": "Oxigen Pulse VO₂/HB", "offset": -40, "dx": -11},
 "layer": [
  {"data": {"values": [{}]}, "mark": {"type": "rule", "color": "#8c8c8c", "strokeWidth": 1.5},
   "encoding": {"x": {"datum": 0, "type": "quantitative", "scale": {"domain": [-66.8, 921.5], "nice": false, "zero": false}}, "x2": {"datum": 864}, "y": {"datum": 0, "type": "quantitative", "scale": {"domain": [-1.217, 4.553], "nice": false, "zero": false}}}},
  {"data": {"values": [{}]}, "mark": {"type": "rule", "color": "#8c8c8c", "strokeWidth": 1.5},
   "encoding": {"x": {"datum": 0, "type": "quantitative", "scale": {"domain": [-66.8, 921.5], "nice": false, "zero": false}}, "y": {"datum": 0, "type": "quantitative", "scale": {"domain": [-1.217, 4.553], "nice": false, "zero": false}}, "y2": {"datum": 4}}},
  {"data": {"name": "trends"}, "transform": [{"filter": "datum.panel == 4"}], "mark": {"type": "line", "strokeWidth": 1.8},
   "encoding": {"x": {"field": "sec", "type": "quantitative", "scale": {"domain": [-66.8, 921.5], "nice": false, "zero": false}}, "y": {"field": "value", "type": "quantitative", "scale": {"domain": [-1.217, 4.553], "nice": false, "zero": false}}, "detail": {"field": "series"}, "color": {"condition": {"test": "datum.series === 'Land'", "value": "#cc2450"}, "value": "#2f52a0"}}},
  {"data": {"name": "points"}, "transform": [{"filter": "datum.panel == 4"}], "mark": {"type": "point", "filled": true, "opacity": 1},
   "encoding": {
    "x": {"field": "sec", "type": "quantitative", "scale": {"domain": [-66.8, 921.5], "nice": false, "zero": false},
      "axis": {"values": [0, 86.4, 172.8, 259.2, 345.6, 432, 518.4, 604.8, 691.2, 777.6, 864], "tickCount": 30, "labelExpr": "pad(toString(floor(datum.value / 60)), 2, '0', 'left') + ':' + pad(toString(floor(datum.value % 60)), 2, '0', 'left')", "offset": -66, "labelPadding": 9, "labelOverlap": false, "title": "Time /min", "titleX": 377, "titleY": 50, "titleBaseline": "middle"}},
    "y": {"field": "value", "type": "quantitative", "scale": {"domain": [-1.217, 4.553], "nice": false, "zero": false},
      "axis": {"values": [0, 0.5, 1, 1.5, 2, 2.5, 3, 3.5, 4], "tickCount": 30, "labelExpr": "replace(format(datum.value, '.2f'), '.', ',')", "offset": -50, "labelPadding": 8, "labelOverlap": false, "title": "O₂/Heart beat", "titleX": -35, "titleY": 134, "titleBaseline": "middle", "titleAlign": "center", "titleAngle": -90}},
    "color": {"field": "series", "type": "nominal", "scale": {"domain": ["Land", "Water"], "range": ["#e3172c", "#1a1a6e"]},
      "legend": {"orient": "none", "legendX": 616, "legendY": 226, "direction": "horizontal", "title": null, "labelFontSize": 9.5, "labelColor": "#444444", "symbolSize": 25, "labelOffset": 3, "columnPadding": 10, "symbolStrokeWidth": 0, "padding": 0}},
    "shape": {"field": "series", "type": "nominal", "scale": {"domain": ["Land", "Water"], "range": ["circle", "square"]},
      "legend": {"orient": "none", "legendX": 616, "legendY": 226, "direction": "horizontal", "title": null, "labelFontSize": 9.5, "labelColor": "#444444", "symbolSize": 25, "labelOffset": 3, "columnPadding": 10, "symbolStrokeWidth": 0, "padding": 0}},
    "size": {"field": "series", "type": "nominal", "scale": {"domain": ["Land", "Water"], "range": [20, 38]}, "legend": null}
   }}
 ]
}
]
}
